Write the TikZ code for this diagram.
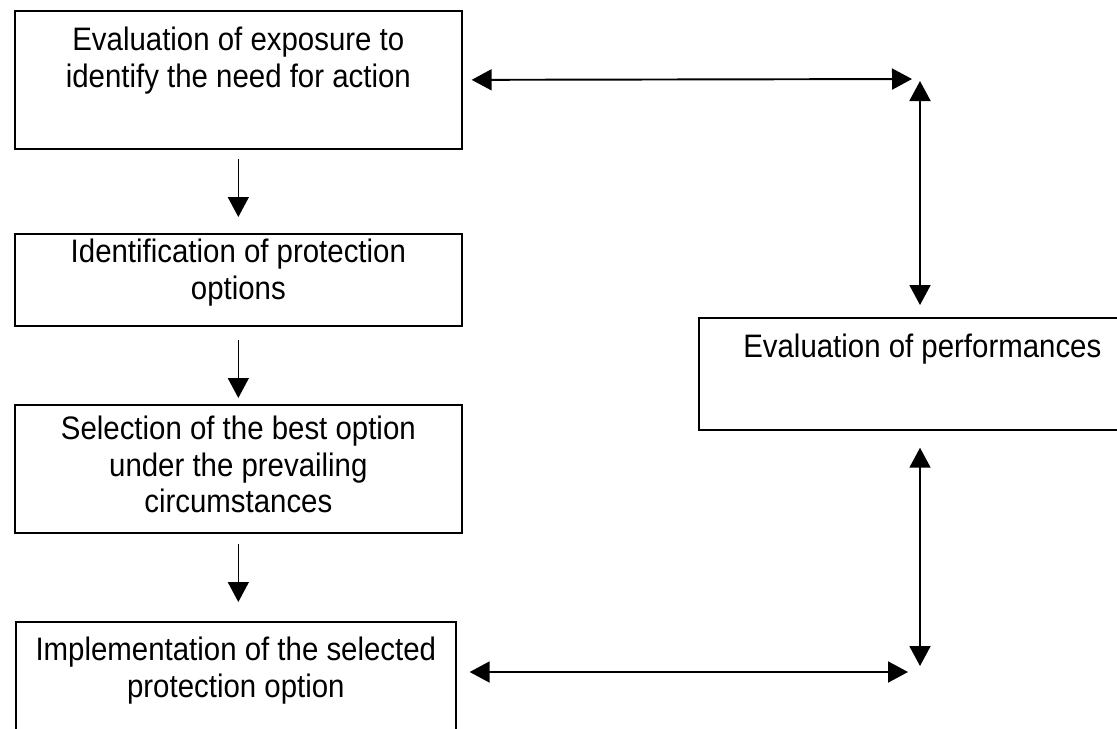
\documentclass[tikz,border=0pt]{standalone}
\usepackage{fontspec}
\setmainfont[FakeStretch=0.905]{Liberation Sans}
\usetikzlibrary{arrows.meta}
\newcommand{\stagetext}[4]{\parbox[c][#2][t]{#1}{\centering\rule{0pt}{#3}#4}}
\begin{document}
\begin{tikzpicture}[x=0.02cm, y=-0.02cm,
    stage/.style={draw, line width=1pt, inner sep=0pt, anchor=north west,
        font=\fontsize{18.5pt}{20.8pt}\selectfont},
    flow/.style={-{Triangle[length=0.4cm,width=0.42cm]}, line width=0.8pt},
    link/.style={{Triangle[length=0.4cm,width=0.42cm]}-{Triangle[length=0.4cm,width=0.42cm]}, line width=1.1pt}]
    \useasboundingbox (0,0) rectangle (1117,728);

    % Boxes
    \node[stage] (s1) at (14,10) {\stagetext{8.94cm}{2.76cm}{0.8cm}{Evaluation of exposure to\\ identify the need for action}};
    \node[stage] (s2) at (14,233) {\stagetext{8.94cm}{1.84cm}{0.58cm}{Identification of protection\\ options}};
    \node[stage] (s3) at (14,404) {\stagetext{8.94cm}{2.56cm}{0.7cm}{Selection of the best option\\ under the prevailing\\ circumstances}};
    \node[stage] (s4) at (15,621) {\stagetext{8.8cm}{2.3cm}{0.78cm}{Implementation of the selected\\ protection option}};
    \node[stage] (perf) at (698,317) {\stagetext{8.94cm}{2.24cm}{0.8cm}{Evaluation of performances}};

    % Free ends of the loop
    \coordinate (ctop) at (920,79);
    \coordinate (cbot) at (920,672);

    % Downward arrows
    \draw[flow, shorten <=0.18cm, shorten >=0.32cm] (s1) -- (s2);
    \draw[flow, shorten <=0.26cm, shorten >=0.12cm] (s2) -- (s3);
    \draw[flow, shorten <=0.2cm, shorten >=0.38cm] (s3.south) -- (s3.south |- s4.north);

    % Loop through the evaluation
    \draw[link, shorten <=0.18cm, shorten >=0.16cm] (s1.east) -- (ctop);
    \draw[link, shorten <=0.04cm, shorten >=0.24cm] (ctop) -- (ctop |- perf.north);
    \draw[link, shorten <=0.34cm, shorten >=0.12cm] (cbot |- perf.south) -- (cbot);
    \draw[link, shorten <=0.26cm, shorten >=0.24cm] (s4.east |- cbot) -- (cbot);
\end{tikzpicture}
\end{document}
